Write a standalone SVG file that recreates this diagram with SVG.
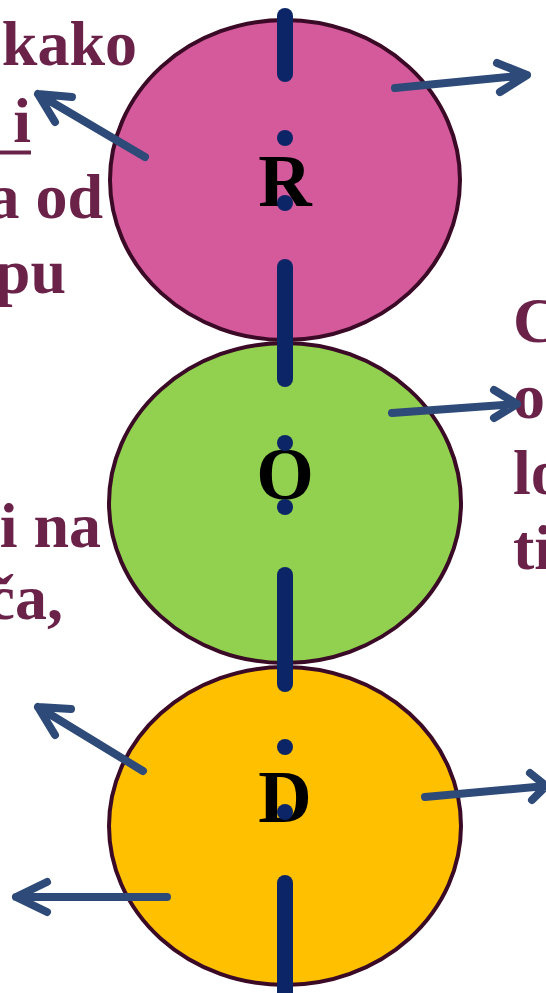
<svg xmlns="http://www.w3.org/2000/svg" width="546" height="993" viewBox="0 0 546 993">
<defs>
<style>
.c{stroke:#3b0a26;stroke-width:4}
.t{font-family:"Liberation Serif","Times New Roman",serif;font-weight:bold;font-size:64px;fill:#6b2249}
.l{font-family:"Liberation Serif","Times New Roman",serif;font-weight:bold;font-size:74px;fill:#000;text-anchor:middle}
.a{fill:none;stroke:#2e4a78;stroke-width:8;stroke-linecap:round;stroke-linejoin:round}
.d{stroke:#0b2566;stroke-width:16;stroke-linecap:round}
</style>
</defs>
<rect width="546" height="993" fill="#fff"/>
<g id="node-R">
<ellipse class="c" cx="285" cy="180" rx="175" ry="160" fill="#d45a9c"/>
<text class="l" x="285" y="206">R</text>
</g>
<g id="node-O">
<ellipse class="c" cx="285" cy="503" rx="176" ry="160" fill="#92d050"/>
<text class="l" x="285" y="499">O</text>
</g>
<g id="node-D">
<ellipse class="c" cx="285" cy="826" rx="176" ry="159" fill="#ffc000"/>
<text class="l" x="285" y="822">D</text>
</g>
<g id="axis">
<line class="d" x1="285" y1="16" x2="285" y2="74"/>
<line class="d" x1="285" y1="138" x2="285" y2="138"/>
<line class="d" x1="285" y1="203" x2="285" y2="203"/>
<line class="d" x1="285" y1="267" x2="285" y2="379"/>
<line class="d" x1="285" y1="443" x2="285" y2="443"/>
<line class="d" x1="285" y1="507" x2="285" y2="507"/>
<line class="d" x1="285" y1="575" x2="285" y2="684"/>
<line class="d" x1="285" y1="747" x2="285" y2="747"/>
<line class="d" x1="285" y1="812" x2="285" y2="812"/>
<line class="d" x1="285" y1="883" x2="285" y2="1000"/>
</g>
<g id="texts">
<text class="t" x="137" y="65" text-anchor="end">kako</text>
<text class="t" x="31" y="142" text-anchor="end">i</text>
<line x1="0" y1="152.5" x2="31" y2="152.5" stroke="#6b2249" stroke-width="4"/>
<text class="t" x="103" y="218" text-anchor="end">a od</text>
<text class="t" x="66" y="293" text-anchor="end">pu</text>
<text class="t" x="101" y="547" text-anchor="end">i na</text>
<text class="t" x="63" y="619" text-anchor="end">ča,</text>
<text class="t" x="513" y="342">C</text>
<text class="t" x="513" y="418">o</text>
<text class="t" x="513" y="494">lo</text>
<text class="t" x="513" y="569">ti</text>
</g>
<g id="connectors">
<path class="a" d="M145 157 L38 94 M72 97 L38 94 L55 122"/>
<path class="a" d="M395 88 L527 75 M497 63 L527 75 L500 92"/>
<path class="a" d="M392 413 L517 404 M494 390 L517 404 L494 418"/>
<path class="a" d="M143 771 L38 707 M71 709 L38 707 L55 735"/>
<path class="a" d="M167 897 L16 897 M47 882 L16 897 L47 912"/>
<path class="a" d="M425 797 L546 786 M530 773 L546 786 L532 800"/>
</g>
</svg>
